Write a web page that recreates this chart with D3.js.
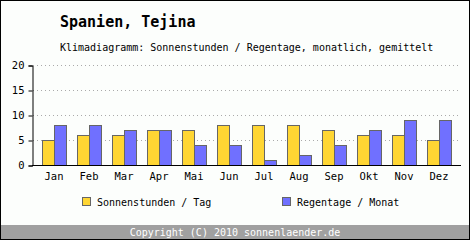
<!DOCTYPE html>
<html>
<head>
<meta charset="utf-8">
<script src="https://cdn.jsdelivr.net/npm/d3@7"></script>
<style>
  body { margin: 0; background: #fff; }
  svg text { font-family: "DejaVu Sans Mono", monospace; }
</style>
</head>
<body>
<div id="chart"></div>
<script>
var months = ["Jan", "Feb", "Mar", "Apr", "Mai", "Jun", "Jul", "Aug", "Sep", "Okt", "Nov", "Dez"];
var sunHours = [5, 6, 6, 7, 7, 8, 8, 8, 7, 6, 6, 5];
var rainDays = [8, 8, 7, 7, 4, 4, 1, 2, 4, 7, 9, 9];
var yTicks = [0, 5, 10, 15, 20];
var seriesNames = ["Sonnenstunden / Tag", "Regentage / Monat"];

var w = 470, h = 240;
var svg = d3.select("#chart").append("svg")
  .attr("width", w).attr("height", h);

svg.append("rect")
  .attr("x", 0.5).attr("y", 0.5)
  .attr("width", w - 1).attr("height", h - 1)
  .attr("fill", "#fcfefc").attr("stroke", "#000");

// title
svg.append("text").attr("x", 60).attr("y", 27)
  .attr("font-size", 15).attr("font-weight", "bold")
  .text("Spanien, Tejina");
svg.append("text").attr("x", 60).attr("y", 51)
  .attr("font-size", 10)
  .text("Klimadiagramm: Sonnenstunden / Regentage, monatlich, gemittelt");

var xScale = d3.scaleBand().domain(months).range([36.5, 456.5]);
var yScale = d3.scaleLinear().domain([0, 20]).range([165, 65]);

// grid
svg.selectAll("line.grid")
  .data(yTicks.filter(function(d) { return d > 0; }))
  .enter().append("line")
  .attr("class", "grid")
  .attr("x1", 33).attr("x2", 461)
  .attr("y1", function(d) { return yScale(d) + 0.5; })
  .attr("y2", function(d) { return yScale(d) + 0.5; })
  .attr("stroke", "#aaa").attr("stroke-dasharray", "1,3");

var bw = 12;
var bars = svg.append("g");
bars.selectAll("rect.sun").data(sunHours).enter().append("rect")
  .attr("x", function(d, i) { return xScale(months[i]) + xScale.bandwidth() / 2 - bw + 0.5; })
  .attr("y", function(d) { return yScale(d) + 0.5; })
  .attr("width", bw)
  .attr("height", function(d) { return 165 - yScale(d); })
  .attr("fill", "#ffd633").attr("stroke", "#666");
bars.selectAll("rect.rain").data(rainDays).enter().append("rect")
  .attr("x", function(d, i) { return xScale(months[i]) + xScale.bandwidth() / 2 + 0.5; })
  .attr("y", function(d) { return yScale(d) + 0.5; })
  .attr("width", bw)
  .attr("height", function(d) { return 165 - yScale(d); })
  .attr("fill", "#7070ff").attr("stroke", "#666");

// y axis
var yAxis = d3.axisLeft(yScale).tickValues(yTicks).tickSize(4).tickPadding(4);
var gy = svg.append("g").attr("transform", "translate(32.5,0.5)").call(yAxis);
gy.select(".domain").attr("stroke", "#000");
gy.selectAll("text").attr("font-size", 10.5).attr("font-family", "DejaVu Sans Mono");

// x axis
svg.append("line").attr("x1", 32).attr("x2", 461)
  .attr("y1", 165.5).attr("y2", 165.5).attr("stroke", "#000");
var xAxis = d3.axisBottom(xScale).tickSize(0).tickPadding(8);
var gx = svg.append("g").attr("transform", "translate(0,165)").call(xAxis);
gx.select(".domain").remove();
gx.selectAll("text").attr("font-size", 10.5).attr("font-family", "DejaVu Sans Mono");

// legend
var legendX = [82, 282];
var legendColor = ["#ffd633", "#7070ff"];
seriesNames.forEach(function(name, i) {
  svg.append("rect").attr("x", legendX[i] + 0.5).attr("y", 197.5)
    .attr("width", 8).attr("height", 8)
    .attr("fill", legendColor[i]).attr("stroke", "#666");
  svg.append("text").attr("x", legendX[i] + 15).attr("y", 206)
    .attr("font-size", 10).text(name);
});

// footer
svg.append("rect").attr("x", 1).attr("y", 225).attr("width", w - 2).attr("height", 14)
  .attr("fill", "#a0a0a0");
svg.append("text").attr("x", w / 2).attr("y", 236)
  .attr("text-anchor", "middle").attr("font-size", 10).attr("fill", "#fff")
  .text("Copyright (C) 2010 sonnenlaender.de");
</script>
</body>
</html>
